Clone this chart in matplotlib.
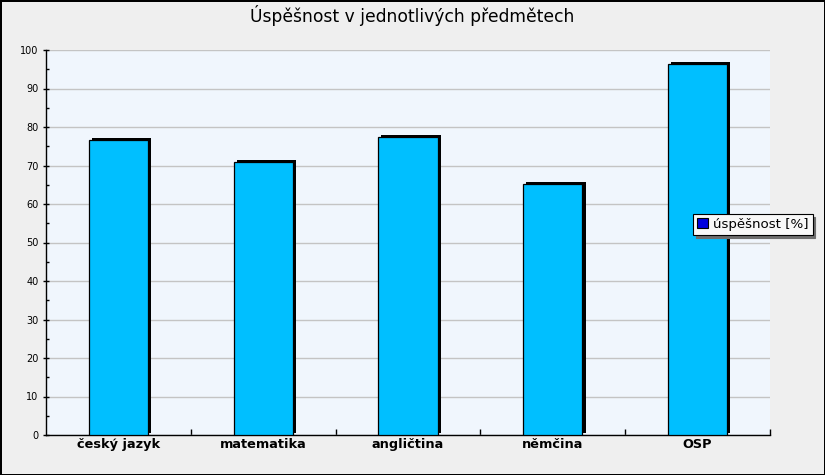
import matplotlib
matplotlib.use("Agg")
import matplotlib.pyplot as plt
import matplotlib.patheffects as pe
from matplotlib.patches import Patch
from matplotlib.ticker import MultipleLocator

TITLE = "Úspěšnost v jednotlivých předmětech"
subjects = ["český jazyk", "matematika", "angličtina", "němčina", "OSP"]
success = [76.6, 70.9, 77.4, 65.3, 96.4]
legend_label = "úspěšnost [%]"

BG = "#EFEFEF"
PLOT_BG = "#F0F6FD"
BAR = "#00BFFF"

fig = plt.figure(figsize=(8.25, 4.75), dpi=100, facecolor=BG,
                 edgecolor="black", linewidth=2)
ax = fig.add_axes([46/825, 1-435/475, 724/825, 385/475])
ax.set_facecolor(PLOT_BG)

x = list(range(len(subjects)))
bars = ax.bar(x, success, width=0.41, color=BAR, edgecolor="black",
              linewidth=0.9, zorder=3)
for b in bars:
    b.set_path_effects([pe.SimplePatchShadow(offset=(2.2, 1.4), shadow_rgbFace="black", alpha=1.0),
                        pe.Normal()])

ax.set_xlim(-0.5, len(subjects) - 0.5)
ax.set_ylim(0, 100)
ax.yaxis.set_major_locator(MultipleLocator(10))
ax.yaxis.set_minor_locator(MultipleLocator(5))
ax.grid(axis="y", which="major", color="#C4C4C4", linewidth=1, zorder=0)
ax.set_axisbelow(True)

for s in ["top", "right"]:
    ax.spines[s].set_visible(False)
for s in ["left", "bottom"]:
    ax.spines[s].set_color("black")
    ax.spines[s].set_linewidth(1)

ax.tick_params(axis="y", which="major", direction="inout", length=5, width=1,
               labelsize=7, pad=3, colors="black")
ax.tick_params(axis="y", which="minor", direction="in", length=2.5, width=1)

# category ticks sit on the boundaries, labels at centres
ax.set_xticks([i + 0.5 for i in x])
ax.set_xticklabels([])
ax.tick_params(axis="x", which="major", direction="in", length=4, width=1)
ax.set_xticks(x, minor=True)
ax.set_xticklabels(subjects, minor=True, fontweight="bold", fontsize=9.3)
ax.tick_params(axis="x", which="minor", length=0, pad=2)

fig.text(0.5, 1 - 16/475, TITLE, ha="center", va="center", fontsize=12.3)

handle = Patch(facecolor="#0000DD", edgecolor="black", linewidth=0.8)
leg = fig.legend([handle], [legend_label], loc="upper left",
                 bbox_to_anchor=(693/825, 1 - 214/475), fontsize=9.6,
                 frameon=True, fancybox=False, shadow={"color": "#6E6E6E", "alpha": 1},
                 handlelength=0.8, handleheight=0.8, handletextpad=0.4,
                 borderpad=0.3, borderaxespad=0)
leg.get_frame().set_edgecolor("black")
leg.get_frame().set_facecolor("#F8F8F8")
leg.get_frame().set_linewidth(0.8)

fig.savefig("out.png", dpi=100, facecolor=BG, edgecolor="black")
